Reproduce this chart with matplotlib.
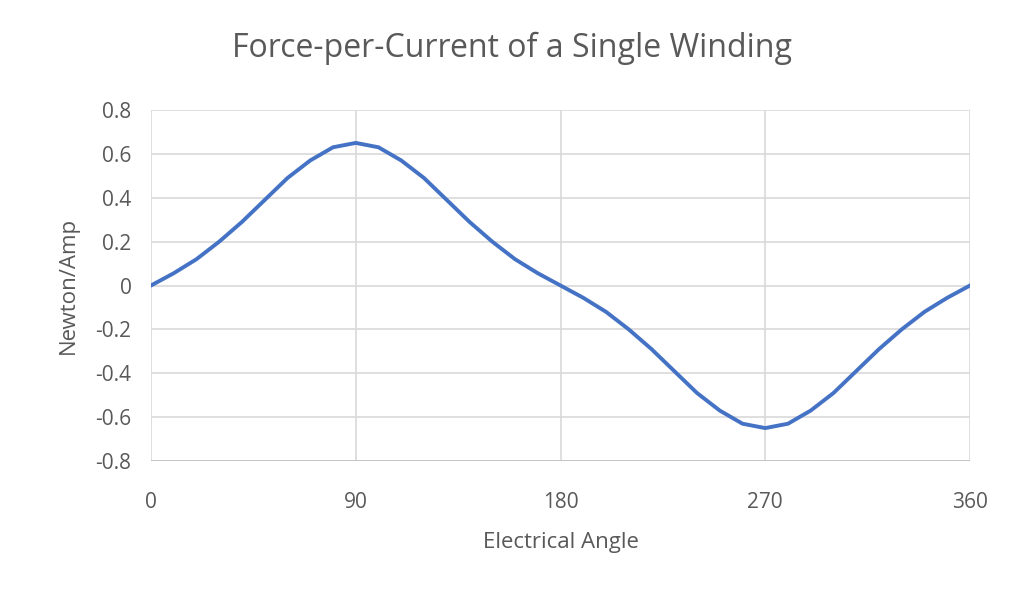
import matplotlib
matplotlib.use("Agg")
import matplotlib.pyplot as plt

angles = list(range(0, 361, 10))
half = [0, 0.056, 0.12, 0.20, 0.29, 0.39, 0.49, 0.57, 0.63, 0.65,
        0.63, 0.57, 0.49, 0.39, 0.29, 0.20, 0.12, 0.056]
force = half + [0] + [-v for v in half[1:]] + [0]
force = force[:len(angles)]
xticks = [0, 90, 180, 270, 360]
yticks = [-0.8, -0.6, -0.4, -0.2, 0, 0.2, 0.4, 0.6, 0.8]
ylabels = ["-0.8", "-0.6", "-0.4", "-0.2", "0", "0.2", "0.4", "0.6", "0.8"]

plt.rcParams["font.family"] = "Open Sans"
tc = "#595959"
fig = plt.figure(figsize=(10.24, 5.90), dpi=100)
ax = fig.add_axes([151/1024, 1-461/590, 819/1024, 351/590])
ax.plot(angles, force, color="#4472C4", lw=2.8, solid_joinstyle="round")
ax.set_xlim(0, 360)
ax.set_ylim(-0.8, 0.8)
ax.set_xticks(xticks)
ax.set_yticks(yticks)
ax.set_yticklabels(ylabels)
ax.grid(True, color="#D9D9D9", lw=1.2)
for s in ax.spines.values():
    s.set_visible(False)
ax.axhline(-0.8, color="#BFBFBF", lw=1.2)
ax.tick_params(length=0, labelsize=15, colors=tc)
ax.tick_params(axis="x", pad=22)
ax.tick_params(axis="y", pad=14)
ax.set_xlabel("Electrical Angle", fontsize=16, color=tc, labelpad=14)
ax.set_ylabel("Newton/Amp", fontsize=16, color=tc, labelpad=12)
fig.text(0.5, 1-48/590, "Force-per-Current of a Single Winding", ha="center",
         va="center", fontsize=23, color=tc)
fig.savefig("out.png", dpi=100)
